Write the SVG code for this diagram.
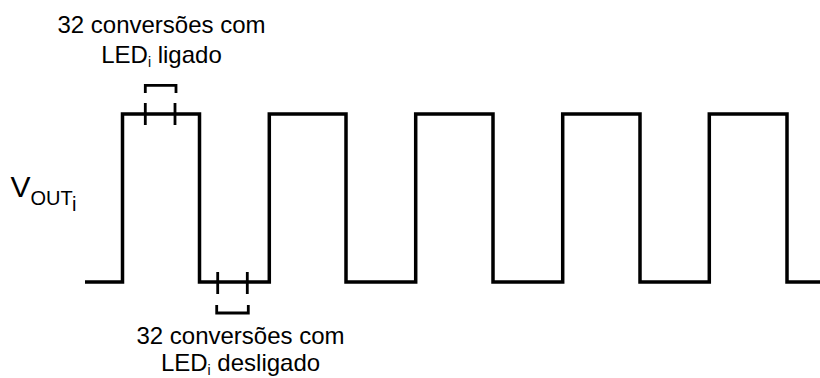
<svg xmlns="http://www.w3.org/2000/svg" width="820" height="378" viewBox="0 0 820 378">
  <style>
    .wave { fill: none; stroke: #000; stroke-width: 3.5; stroke-linejoin: miter; stroke-linecap: butt; }
    .mark { fill: none; stroke: #000; stroke-width: 2.8; stroke-linejoin: miter; stroke-linecap: butt; }
    .lbl { font-family: "Liberation Sans", Arial, sans-serif; font-size: 24px; fill: #000; }
  </style>
  <rect width="820" height="378" fill="#fff"/>
  <g id="connectors">
    <path id="waveform" class="wave" d="M85 282 H122.5 V114 H199.5 V282 H269.3 V114 H346 V282 H415.7 V114 H493 V282 H562.7 V114 H640 V282 H709.3 V114 H787 V282 H820"/>
  </g>
  <g id="bracket-on">
    <path class="mark" d="M145.3 103 V125 M175 103 V125"/>
    <path class="mark" d="M145.3 93 V85.3 H176 V93"/>
  </g>
  <g id="bracket-off">
    <path class="mark" d="M217.7 272 V294 M247.3 272 V294"/>
    <path class="mark" d="M216.7 305 V313 H248.3 V305"/>
  </g>
  <g id="label-on">
    <text class="lbl" x="161.5" y="33" text-anchor="middle">32 conversões com</text>
    <text class="lbl" x="161.5" y="63" text-anchor="middle">LED<tspan style="font-size:14px" dy="4">i</tspan><tspan dy="-4"> ligado</tspan></text>
  </g>
  <g id="label-off">
    <text class="lbl" x="240.5" y="344" text-anchor="middle">32 conversões com</text>
    <text class="lbl" x="240.5" y="371" text-anchor="middle">LED<tspan style="font-size:14px" dy="4">i</tspan><tspan dy="-4"> desligado</tspan></text>
  </g>
  <g id="label-vout">
    <text class="lbl" x="10.5" y="197" style="font-size:30px">V<tspan style="font-size:20px" dy="8">OUT</tspan><tspan style="font-size:20px" dy="6">i</tspan></text>
  </g>
</svg>
